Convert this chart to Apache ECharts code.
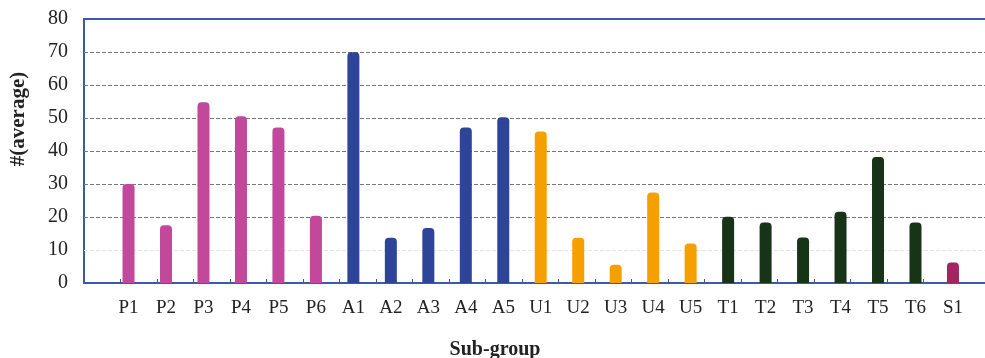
<!DOCTYPE html>
<html>
<head>
<meta charset="utf-8">
<script src="https://cdn.jsdelivr.net/npm/echarts@6/dist/echarts.min.js"></script>
<style>html,body{margin:0;padding:0;background:#fff}#c{width:985px;height:358px}</style>
</head>
<body>
<div id="c"></div>
<script>
const categories = ['P1','P2','P3','P4','P5','P6','A1','A2','A3','A4','A5','U1','U2','U3','U4','U5','T1','T2','T3','T4','T5','T6','S1'];
const values = [30.0,17.5,54.8,50.5,47.1,20.4,69.9,13.7,16.7,47.1,50.2,45.9,13.7,5.5,27.4,12.0,20.1,18.3,13.8,21.6,38.2,18.3,6.2];
const groups = ['P','P','P','P','P','P','A','A','A','A','A','U','U','U','U','U','T','T','T','T','T','T','S'];
const groupColors = {P:'#C1489A', A:'#2E4498', U:'#F5A000', T:'#173318', S:'#A3245F'};
const yTicks = [0,10,20,30,40,50,60,70,80];
const tickSlots = new Array(22).fill('');
const yTitle = '#(average)';
const xTitle = 'Sub-group';

const serif = '"Liberation Serif","Times New Roman",serif';
const chart = echarts.init(document.getElementById('c'));
chart.setOption({
  animation:false,
  grid:[
    {left:84, top:19, width:903, height:264, show:true, borderColor:'#3A5CA6', borderWidth:2, backgroundColor:'transparent', outerBoundsMode:'none', containLabel:false},
    {left:120.5, top:19, width:803, height:264, outerBoundsMode:'none', containLabel:false},
    {left:109.8, top:19, width:861.9, height:264, outerBoundsMode:'none', containLabel:false}
  ],
  xAxis:[
    {gridIndex:0, type:'category', data:categories, show:false},
    {gridIndex:1, type:'category', data:tickSlots, axisLine:{show:false}, axisLabel:{show:false},
      axisTick:{show:true, inside:true, length:4, lineStyle:{color:'#555', width:1}}},
    {gridIndex:2, type:'category', data:categories, axisLine:{show:false}, axisTick:{show:false},
      axisLabel:{color:'#222', fontFamily:serif, fontSize:19, margin:16}}
  ],
  yAxis:[
    {gridIndex:0, type:'value', min:yTicks[0], max:yTicks[yTicks.length-1], interval:10,
      axisLine:{show:false}, axisTick:{show:false},
      axisLabel:{color:'#222', fontFamily:serif, fontSize:20, margin:16},
      splitLine:{show:true, lineStyle:{type:'dashed', width:1,
        color:['rgba(0,0,0,0)','#e6e6e6','#777','#777','#777','#777','#777','#777','rgba(0,0,0,0)']}}},
    {gridIndex:1, type:'value', min:0, max:80, show:false},
    {gridIndex:2, type:'value', min:0, max:80, show:false}
  ],
  series:[{
    type:'bar', xAxisIndex:2, yAxisIndex:2, barWidth:12,
    data: values.map((v,i)=>({value:v, itemStyle:{color:groupColors[groups[i]], borderRadius:[4,4,0,0]}}))
  }],
  graphic:[
    {type:'text', x:495, y:350, style:{text:xTitle, align:'center', verticalAlign:'middle',
      font:'bold 20px '+serif, fill:'#222'}},
    {type:'text', x:19, y:119, rotation:Math.PI/2, style:{text:yTitle, align:'center', verticalAlign:'middle',
      font:'bold 21px '+serif, fill:'#222'}}
  ]
});
</script>
</body>
</html>
